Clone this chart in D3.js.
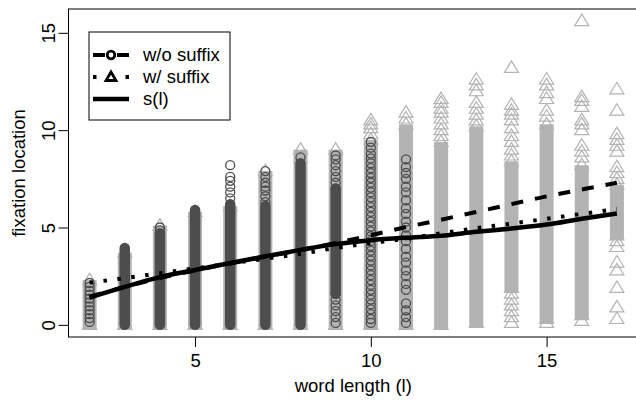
<!DOCTYPE html>
<html>
<head>
<meta charset="utf-8">
<script src="https://d3js.org/d3.v7.min.js"></script>
<style>
  body { margin: 0; background: #fff; }
  text { font-family: "Liberation Sans", Arial, sans-serif; font-size: 18.5px; fill: #000; }
  .box { fill: none; stroke: #000; stroke-width: 1; }
  .tick line { stroke: #000; }
</style>
</head>
<body>
<div id="chart"></div>
<script>
// word lengths (x) and smoothed fixation location curves
var lengths = [2, 3, 4, 5, 6, 7, 8, 9, 10, 11, 12, 13, 14, 15, 16, 17];
var smoothWithout = [1.45, 1.95, 2.4, 2.8, 3.15, 3.5, 3.85, 4.2, 4.6, 5.02, 5.4, 5.8, 6.2, 6.6, 6.95, 7.3];
var smoothWith = [2.17, 2.4, 2.65, 2.9, 3.15, 3.4, 3.65, 3.95, 4.2, 4.42, 4.7, 4.97, 5.2, 5.45, 5.7, 5.95];
var smoothAll = [1.4, 1.95, 2.45, 2.82, 3.18, 3.52, 3.85, 4.15, 4.35, 4.48, 4.58, 4.78, 4.95, 5.15, 5.45, 5.72];

// w/o suffix: dense ranges (null = none) and single points, one entry per length
var circleLo = [null, 0, 0, 0, 0, 0, 0, 1.6, null, null, null, null, null, null, null, null];
var circleHi = [null, 3.95, 4.7, 5.9, 6.2, 6.1, 8.3, 7.0, null, null, null, null, null, null, null, null];
var circlePts = [
  [0.15, 0.35, 0.55, 0.75, 0.95, 1.15, 1.35, 1.55, 1.75, 1.95, 2.15],
  [],
  [0.05, 4.85, 5.0],
  [],
  [6.5, 6.8, 7.1, 7.4, 7.6, 8.2],
  [6.3, 6.6, 6.9, 7.1, 7.3, 7.6, 7.9],
  [8.6],
  [0.1, 0.4, 0.7, 1.0, 1.3, 1.6, 7.0, 7.3, 7.6, 7.9, 8.2, 8.5, 8.7],
  [0.1, 0.3, 0.55, 0.8, 1.05, 1.3, 1.55, 1.8, 2.05, 2.3, 2.55, 2.8, 3.05, 3.3, 3.55, 3.8, 4.05, 4.3, 4.55, 4.8,
   5.05, 5.3, 5.55, 5.8, 6.05, 6.3, 6.55, 6.8, 7.05, 7.3, 7.55, 7.8, 8.05, 8.3, 8.55, 8.8, 9.1, 9.4],
  [0.1, 0.4, 0.75, 1.1, 1.8, 2.1, 2.5, 2.8, 3.2, 3.5, 3.9, 4.3, 4.6, 5.0, 5.3, 5.7, 6.0, 6.4, 6.8, 7.1, 7.5, 7.8, 8.1, 8.5],
  [], [], [], [], [], []
];

// w/ suffix: dense ranges and single points, one entry per length
var triLo = [0, 0, 0, 0, 0, 0, 0, 0, 0, 0, 0, 0.1, 1.9, 0.3, 0.5, 4.6];
var triHi = [2.3, 3.7, 5.1, 5.8, 6.1, 7.9, 9.0, 9.0, 9.5, 10.3, 9.4, 10.2, 8.4, 10.3, 8.2, 7.2];
var triPts = [
  [], [], [], [], [], [], [], [],
  [9.8, 10.1, 10.3, 10.5],
  [10.6, 10.9],
  [9.7, 10.0, 10.3, 10.6, 10.9, 11.1, 11.4, 11.6],
  [10.5, 10.8, 11.1, 11.4, 12.0, 12.3, 12.6],
  [0.1, 0.4, 0.7, 1.0, 1.3, 1.6, 8.7, 9.0, 9.4, 9.7, 10.1, 10.5, 10.8, 11.0, 11.3, 13.2],
  [0.1, 10.7, 11.0, 11.6, 11.9, 12.3, 12.6],
  [0.2, 8.6, 8.9, 9.2, 10.0, 10.3, 10.5, 11.2, 11.5, 11.7, 15.6],
  [0.3, 0.9, 1.9, 2.8, 3.2, 4.0, 4.3, 7.5, 7.8, 8.1, 8.9, 9.2, 9.5, 9.8, 11.0, 12.1]
];

var xTicks = [5, 10, 15];
var yTicks = [0, 5, 10, 15];
var legendLabels = ["w/o suffix", "w/ suffix", "s(l)"];

var width = 636, height = 402;
var darkGrey = "#4d4d4d", lightGrey = "#b3b3b3";

var svg = d3.select("#chart").append("svg")
    .attr("width", width)
    .attr("height", height);

var x = d3.scaleLinear().domain([1.4, 17.6]).range([68.5, 638]);
var y = d3.scaleLinear().domain([-0.624, 16.224]).range([337, 9]);

var triPath = "M0,-7L7,4.5L-7,4.5Z";

// triangles first (they sit under the circles)
var triCols = lengths.map(function(l, i) { return {l: l, lo: triLo[i], hi: triHi[i], pts: triPts[i]}; });

svg.append("g").selectAll("rect")
    .data(triCols.filter(function(d) { return d.lo !== null; }))
    .enter().append("rect")
    .attr("x", function(d) { return x(d.l) - 7; })
    .attr("y", function(d) { return y(d.hi); })
    .attr("width", 14)
    .attr("height", function(d) { return y(d.lo) - y(d.hi) + 4.5; })
    .attr("fill", lightGrey);

var triPoints = [];
triCols.forEach(function(d) {
  if (d.lo !== null) { triPoints.push([d.l, d.lo]); triPoints.push([d.l, d.hi]); }
  d.pts.forEach(function(v) { triPoints.push([d.l, v]); });
});

svg.append("g").selectAll("path")
    .data(triPoints)
    .enter().append("path")
    .attr("d", triPath)
    .attr("transform", function(d) { return "translate(" + x(d[0]) + "," + y(d[1]) + ")"; })
    .attr("fill", "none")
    .attr("stroke", lightGrey)
    .attr("stroke-width", 1.2);

// circles
var circCols = lengths.map(function(l, i) { return {l: l, lo: circleLo[i], hi: circleHi[i], pts: circlePts[i]}; });

svg.append("g").selectAll("line")
    .data(circCols.filter(function(d) { return d.lo !== null; }))
    .enter().append("line")
    .attr("x1", function(d) { return x(d.l); })
    .attr("x2", function(d) { return x(d.l); })
    .attr("y1", function(d) { return y(d.hi); })
    .attr("y2", function(d) { return y(d.lo); })
    .attr("stroke", darkGrey)
    .attr("stroke-width", 10.5)
    .attr("stroke-linecap", "round");

var circPoints = [];
circCols.forEach(function(d) {
  d.pts.forEach(function(v) { circPoints.push([d.l, v]); });
});

svg.append("g").selectAll("circle")
    .data(circPoints)
    .enter().append("circle")
    .attr("cx", function(d) { return x(d[0]); })
    .attr("cy", function(d) { return y(d[1]); })
    .attr("r", 4.5)
    .attr("fill", "none")
    .attr("stroke", darkGrey)
    .attr("stroke-width", 1.3);

// smooth curves
function curve(vals) {
  return d3.line()
    .x(function(d, i) { return x(lengths[i]); })
    .y(function(d) { return y(d); })
    .curve(d3.curveMonotoneX)(vals);
}

svg.append("path").attr("d", curve(smoothWithout))
    .attr("fill", "none").attr("stroke", "#000").attr("stroke-width", 4)
    .attr("stroke-dasharray", "12,12");
svg.append("path").attr("d", curve(smoothWith))
    .attr("fill", "none").attr("stroke", "#000").attr("stroke-width", 4)
    .attr("stroke-dasharray", "3.5,10.5");
svg.append("path").attr("d", curve(smoothAll))
    .attr("fill", "none").attr("stroke", "#000").attr("stroke-width", 4.5);

// box and axes
svg.append("rect").attr("class", "box")
    .attr("x", x.range()[0]).attr("y", y.range()[1])
    .attr("width", x.range()[1] - x.range()[0])
    .attr("height", y.range()[0] - y.range()[1]);

var xAxis = svg.append("g")
    .attr("transform", "translate(0," + y.range()[0] + ")")
    .call(d3.axisBottom(x).tickValues(xTicks).tickSize(10).tickFormat(d3.format("d")));
xAxis.select(".domain").remove();
xAxis.selectAll("text").attr("dy", null).attr("y", 30).style("font-size", "18.5px");

var yAxis = svg.append("g")
    .attr("transform", "translate(" + x.range()[0] + ",0)")
    .call(d3.axisLeft(y).tickValues(yTicks).tickSize(10).tickFormat(d3.format("d")));
yAxis.select(".domain").remove();
yAxis.selectAll("text")
    .attr("x", null).attr("dy", null)
    .attr("text-anchor", "middle")
    .attr("transform", "translate(-14,0) rotate(-90)")
    .style("font-size", "18.5px");

svg.append("text")
    .attr("x", (x.range()[0] + x.range()[1]) / 2)
    .attr("y", 392)
    .attr("text-anchor", "middle")
    .text("word length (l)");

svg.append("text")
    .attr("transform", "translate(25," + (y.range()[0] + y.range()[1]) / 2 + ") rotate(-90)")
    .attr("text-anchor", "middle")
    .text("fixation location");

// legend
var leg = svg.append("g");
leg.append("rect")
    .attr("x", 89).attr("y", 32).attr("width", 141).attr("height", 88)
    .attr("fill", "#fff").attr("stroke", "#000");

var rowY = [55, 77, 99];
var dashes = ["12,12", "3.5,29", null];

leg.selectAll(".lline")
    .data(legendLabels)
    .enter().append("line")
    .attr("x1", 93).attr("x2", 129)
    .attr("y1", function(d, i) { return rowY[i]; })
    .attr("y2", function(d, i) { return rowY[i]; })
    .attr("stroke", "#000")
    .attr("stroke-width", function(d, i) { return i === 2 ? 4.5 : 4; })
    .attr("stroke-dasharray", function(d, i) { return dashes[i]; });

leg.append("circle")
    .attr("cx", 111).attr("cy", rowY[0]).attr("r", 3.8)
    .attr("fill", "#fff").attr("stroke", "#000").attr("stroke-width", 2.8);

leg.append("path")
    .attr("d", "M0,-5L5,3.5L-5,3.5Z")
    .attr("transform", "translate(111," + rowY[1] + ")")
    .attr("fill", "#fff").attr("stroke", "#000").attr("stroke-width", 2.8)
    .attr("stroke-linejoin", "miter");

leg.selectAll(".ltext")
    .data(legendLabels)
    .enter().append("text")
    .attr("x", 143)
    .attr("y", function(d, i) { return rowY[i]; })
    .attr("dy", "0.35em")
    .text(function(d) { return d; });
</script>
</body>
</html>
